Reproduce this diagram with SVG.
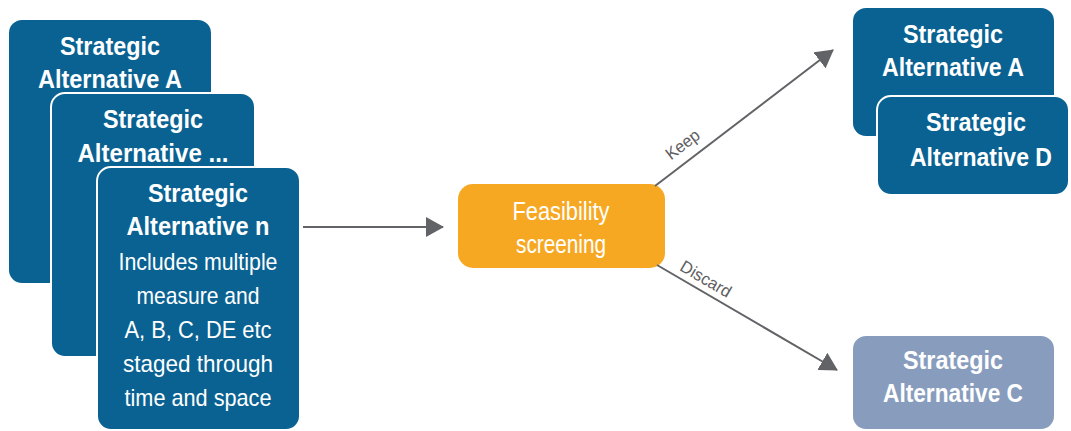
<svg xmlns="http://www.w3.org/2000/svg" width="1071" height="431" viewBox="0 0 1071 431">
<style>
.box{fill:#0a6292;stroke:#fff;stroke-width:2}
.boxc{fill:#889dbe;stroke:#fff;stroke-width:2}
.feas{fill:#f7a823}
.tb{font-family:"Liberation Sans",Arial,sans-serif;font-weight:bold;font-size:25px;fill:#fff;text-anchor:middle}
.tr{font-family:"Liberation Sans",Arial,sans-serif;font-size:24px;fill:#fff;text-anchor:middle}
.lbl{font-family:"Liberation Sans",Arial,sans-serif;font-size:17px;fill:#5f6062;text-anchor:middle}
.conn{stroke:#626366;stroke-width:2;fill:none}
</style>
<defs>
<marker id="ah" markerWidth="18" markerHeight="20" refX="17" refY="10" orient="auto" markerUnits="userSpaceOnUse" viewBox="0 0 18 20">
<path d="M0,0 L18,10 L0,20 z" fill="#626366"/>
</marker>
</defs>
<g id="left-a">
<rect class="box" x="8" y="19" width="204" height="265" rx="14"/>
<text class="tb" x="110" y="55" textLength="100" lengthAdjust="spacingAndGlyphs">Strategic</text>
<text class="tb" x="110" y="88" textLength="144" lengthAdjust="spacingAndGlyphs">Alternative A</text>
</g>
<g id="left-dots">
<rect class="box" x="51" y="93" width="204" height="264" rx="14"/>
<text class="tb" x="153" y="128" textLength="100" lengthAdjust="spacingAndGlyphs">Strategic</text>
<text class="tb" x="153" y="162" textLength="151" lengthAdjust="spacingAndGlyphs">Alternative ...</text>
</g>
<g id="left-n">
<rect class="box" x="97" y="167" width="203" height="263" rx="14"/>
<text class="tb" x="198" y="202" textLength="100" lengthAdjust="spacingAndGlyphs">Strategic</text>
<text class="tb" x="198" y="235" textLength="143" lengthAdjust="spacingAndGlyphs">Alternative n</text>
<text class="tr" x="198" y="270" textLength="159" lengthAdjust="spacingAndGlyphs">Includes multiple</text>
<text class="tr" x="198" y="304" textLength="123" lengthAdjust="spacingAndGlyphs">measure and</text>
<text class="tr" x="198" y="338" textLength="147" lengthAdjust="spacingAndGlyphs">A, B, C, DE etc</text>
<text class="tr" x="198" y="372" textLength="150" lengthAdjust="spacingAndGlyphs">staged through</text>
<text class="tr" x="198" y="406" textLength="147" lengthAdjust="spacingAndGlyphs">time and space</text>
</g>
<g id="feasibility">
<rect class="feas" x="458" y="184" width="207" height="84" rx="15"/>
<text class="tr" x="561" y="220" style="font-size:25px" textLength="97" lengthAdjust="spacingAndGlyphs">Feasibility</text>
<text class="tr" x="561" y="253" style="font-size:25px" textLength="90" lengthAdjust="spacingAndGlyphs">screening</text>
</g>
<g id="right-a">
<rect class="box" x="852" y="7" width="203" height="130" rx="14"/>
<text class="tb" x="953" y="43" textLength="100" lengthAdjust="spacingAndGlyphs">Strategic</text>
<text class="tb" x="953" y="76" textLength="142" lengthAdjust="spacingAndGlyphs">Alternative A</text>
</g>
<g id="right-d">
<rect class="box" x="877" y="96" width="192" height="99" rx="14"/>
<text class="tb" x="976" y="131" textLength="100" lengthAdjust="spacingAndGlyphs">Strategic</text>
<text class="tb" x="981" y="166" textLength="142" lengthAdjust="spacingAndGlyphs">Alternative D</text>
</g>
<g id="right-c">
<rect class="boxc" x="852" y="335" width="203" height="95" rx="14"/>
<text class="tb" x="953" y="369" textLength="100" lengthAdjust="spacingAndGlyphs">Strategic</text>
<text class="tb" x="953" y="402" textLength="140" lengthAdjust="spacingAndGlyphs">Alternative C</text>
</g>
<g id="connectors">
<line class="conn" x1="303" y1="227" x2="443" y2="227" marker-end="url(#ah)"/>
<line class="conn" x1="655" y1="186" x2="833" y2="50" marker-end="url(#ah)"/>
<line class="conn" x1="657" y1="265" x2="837" y2="370" marker-end="url(#ah)"/>
<text class="lbl" transform="translate(686,149) rotate(-37.4)" textLength="38" lengthAdjust="spacingAndGlyphs">Keep</text>
<text class="lbl" transform="translate(703,284) rotate(30.3)" textLength="56" lengthAdjust="spacingAndGlyphs">Discard</text>
</g>
</svg>
